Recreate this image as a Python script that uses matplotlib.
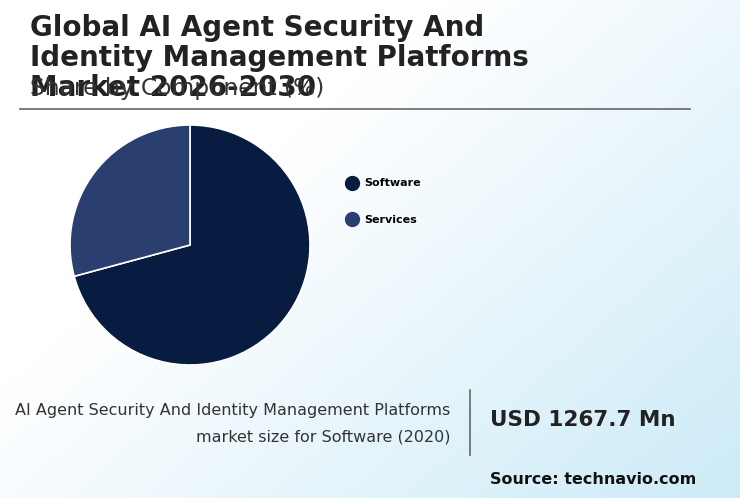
import numpy as np
import matplotlib
matplotlib.use("Agg")
import matplotlib.pyplot as plt
from matplotlib.lines import Line2D

categories = ["Software", "Services"]
shares = [70.8, 29.2]
colors = ["#081c42", "#2a3f6f"]

fig = plt.figure(figsize=(7.4, 4.98), dpi=100)
bg = fig.add_axes([0, 0, 1, 1])
xx, yy = np.meshgrid(np.linspace(0, 1, 200), np.linspace(1, 0, 200))
t = np.clip((xx * 0.9 + (1 - yy) * 0.7) - 0.55, 0, 1) / 1.05
img = np.zeros((200, 200, 3))
c0 = np.array([1, 1, 1]); c1 = np.array([0.80, 0.92, 0.97])
for i in range(3):
    img[..., i] = c0[i] + (c1[i] - c0[i]) * t
bg.imshow(img, extent=[0, 1, 0, 1], aspect="auto")
bg.set_xlim(0, 1); bg.set_ylim(0, 1); bg.axis("off")

fig.text(30/740, 1 - 14/498, "Global AI Agent Security And\nIdentity Management Platforms\nMarket 2026-2030",
         fontsize=20, fontweight="bold", color="#222222", va="top", linespacing=1.1)
fig.text(30/740, 1 - 89/498, "Share by Component (%)", fontsize=16.8, color="#333333", va="center")
bg.plot([20/740, 690/740], [1 - 109/498, 1 - 109/498], color="#666666", lw=1.2)

ax = fig.add_axes([70/740, (498-365)/498, 240/740, 240/498])
ax.pie(shares, colors=colors, startangle=90, counterclock=False,
       wedgeprops=dict(edgecolor="white", linewidth=1.2))
ax.set_xlim(-1, 1); ax.set_ylim(-1, 1)
ax.set_aspect("equal")

handles = [Line2D([], [], marker="o", ls="", markersize=10, color=c) for c in colors]
fig.legend(handles, categories, loc="upper left", bbox_to_anchor=(336/740, 1 - 174/498),
           frameon=False, prop=dict(size=8, weight="bold"), labelspacing=2.35,
           handletextpad=0.1, borderaxespad=0)

fig.text(450/740, 1 - 410/498, "AI Agent Security And Identity Management Platforms",
         fontsize=11.5, color="#333333", ha="right", va="center")
fig.text(450/740, 1 - 437/498, "market size for Software (2020)",
         fontsize=11.5, color="#333333", ha="right", va="center")
bg.plot([470/740, 470/740], [1 - 390/498, 1 - 455/498], color="#666666", lw=1.2)
fig.text(490/740, 1 - 420/498, "USD 1267.7 Mn", fontsize=15.5, fontweight="bold",
         color="#222222", va="center")
fig.text(490/740, 1 - 479/498, "Source: technavio.com", fontsize=11.5, fontweight="bold",
         color="#111111", va="center")

fig.savefig("out.png", dpi=100)
